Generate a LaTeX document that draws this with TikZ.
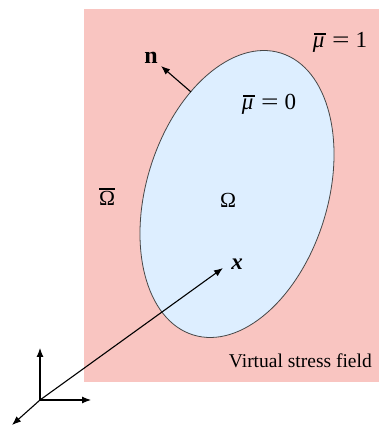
\documentclass[tikz,border=0pt]{standalone}
\usepackage{graphicx}
\usepackage{fontspec}
\setmainfont{Liberation Serif}
\usetikzlibrary{arrows.meta}
\definecolor{pinkbg}{RGB}{249,197,193}
\definecolor{blueel}{RGB}{221,238,255}
\definecolor{edgegray}{RGB}{70,70,70}
\newcommand{\ovbar}[2][0pt]{\setbox0\hbox{#2}\vbox{\offinterlineskip\hbox{\kern#1\vrule width\wd0 height1.4pt}\kern2pt\box0}}
\newcommand{\mueq}[1]{\ovbar[1.5pt]{\itshape μ}\kern6pt\scalebox{1.35}[1]{=}\kern6pt #1}
\tikzset{
  lbl/.style={inner sep=0pt, font=\fontsize{19.5}{23}\selectfont},
  mlbl/.style={inner sep=0pt, font=\fontsize{23}{27}\selectfont},
  arr/.style={line width=1.1pt, -{Latex[length=9pt,width=7pt]}},
}
\begin{document}
\begin{tikzpicture}[x=1pt,y=1pt]
\useasboundingbox (0,0) rectangle (379,428);
\fill[pinkbg] (84,46) rectangle (379,419);
\draw[fill=blueel, draw=edgegray, line width=0.8pt] (237,234) ellipse [x radius=147.6, y radius=90.6, rotate=72.7];
% labels
\node[mlbl] (mu1) at (340,386) {\mueq{1}};
\node[mlbl] (mu0) at (269,324) {\mueq{0}};
\node[lbl, font=\fontsize{21.5}{25}\selectfont] (Ob) at (107,231) {\ovbar{Ω}};
\node[lbl, font=\fontsize{21.5}{25}\selectfont] (Om) at (228,228) {Ω};
\node[mlbl, font=\fontsize{24}{28}\selectfont\bfseries] (n) at (151,370) {n};
\node[mlbl, font=\fontsize{23}{27}\selectfont\bfseries\itshape] (xl) at (237,164) {x};
\node[lbl, anchor=base east] (vs) at (372,60) {Virtual stress field};
% normal arrow
\coordinate (nb) at (191,336);
\coordinate (nt) at (161,362);
\draw[arr] (nb) -- (nt);
% axes
\coordinate (O) at (40,28);
\coordinate (ay) at (40,80);
\coordinate (ax) at (91,28);
\coordinate (az) at (12,3);
\coordinate (xt) at (223,160);
\draw[arr] (O) -- (ay);
\draw[arr] (O) -- (ax);
\draw[arr] (O) -- (az);
\draw[arr] (O) -- (xt);
\end{tikzpicture}
\end{document}
